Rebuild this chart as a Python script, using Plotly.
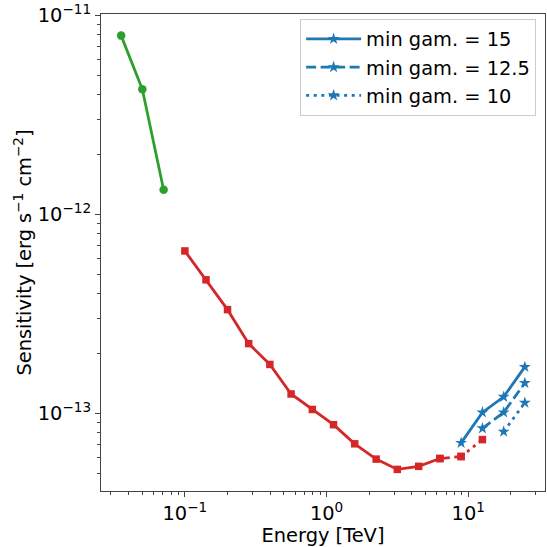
import plotly.graph_objects as go

# ---- data ----
green_energy = [0.0355, 0.0501, 0.0708]
green_sens = [7.93e-12, 4.26e-12, 1.33e-12]

red_energy = [0.1, 0.141, 0.2, 0.282, 0.398, 0.562, 0.794, 1.12, 1.58, 2.24,
              3.16, 4.47, 6.31, 8.91, 12.6]
red_sens = [6.55e-13, 4.69e-13, 3.32e-13, 2.24e-13, 1.76e-13, 1.25e-13, 1.045e-13,
            8.76e-14, 7.02e-14, 5.88e-14, 5.22e-14, 5.41e-14, 5.92e-14, 6.06e-14, 7.37e-14]
red_solid_end = 12   # index where solid part ends
red_dash_end = 13    # index where dashed part ends

blue_names = ["min gam. = 15", "min gam. = 12.5", "min gam. = 10"]
blue_energy = [[8.91, 12.6, 17.8, 25.1], [12.6, 17.8, 25.1], [17.8, 25.1]]
blue_sens = [[7.1e-14, 1.01e-13, 1.21e-13, 1.71e-13],
             [8.4e-14, 1.01e-13, 1.42e-13],
             [8.08e-14, 1.13e-13]]
blue_dash = ["solid", "10px,4.5px", "3px,4.6px"]

x_major = [0.1, 1, 10]
x_major_text = ["10<sup>−1</sup>", "10<sup>0</sup>", "10<sup>1</sup>"]
x_minor = [0.03, 0.04, 0.05, 0.06, 0.07, 0.08, 0.09,
           0.2, 0.3, 0.4, 0.5, 0.6, 0.7, 0.8, 0.9,
           2, 3, 4, 5, 6, 7, 8, 9, 20, 30]
y_major = [1e-13, 1e-12, 1e-11]
y_major_text = ["10<sup>−13</sup>", "10<sup>−12</sup>", "10<sup>−11</sup>"]
y_minor = [5e-14, 6e-14, 7e-14, 8e-14, 9e-14,
           2e-13, 3e-13, 4e-13, 5e-13, 6e-13, 7e-13, 8e-13, 9e-13,
           2e-12, 3e-12, 4e-12, 5e-12, 6e-12, 7e-12, 8e-12, 9e-12]

GREEN = "#2ca02c"
RED = "#d62728"
BLUE = "#1f77b4"
LW = 2.8
FS = 19.4

fig = go.Figure()

fig.add_trace(go.Scatter(x=green_energy, y=green_sens, mode="lines+markers",
                         line=dict(color=GREEN, width=LW),
                         marker=dict(symbol="circle", size=8.5, color=GREEN),
                         showlegend=False))

segments = [
    (0, red_solid_end + 1, "solid"),
    (red_solid_end, red_dash_end + 1, "10px,4.5px"),
    (red_dash_end, len(red_energy), "3px,4.6px"),
]
for a, b, d in segments:
    fig.add_trace(go.Scatter(x=red_energy[a:b], y=red_sens[a:b], mode="lines+markers",
                             line=dict(color=RED, width=LW, dash=d),
                             marker=dict(symbol="square", size=7.5, color=RED),
                             showlegend=False))

for name, ex, sv, d in zip(blue_names, blue_energy, blue_sens, blue_dash):
    fig.add_trace(go.Scatter(x=ex, y=sv, mode="lines+markers", name=name,
                             line=dict(color=BLUE, width=LW, dash=d),
                             marker=dict(symbol="star", size=9, color=BLUE)))

axis_common = dict(
    showline=True, linecolor="#444", linewidth=1.1, mirror=True,
    showgrid=False, zeroline=False,
    ticks="outside", ticklen=5, tickwidth=1.1, tickcolor="#444",
    tickmode="array", ticklabeloverflow="allow",
    tickfont=dict(size=FS),
)

fig.update_xaxes(type="log", range=[-1.592, 1.542],
                 tickvals=x_major, ticktext=x_major_text,
                 minor=dict(tickmode="array", tickvals=x_minor, ticks="outside",
                            ticklen=3, tickwidth=0.8, tickcolor="#444", showgrid=False),
                 title=dict(text="Energy [TeV]", standoff=1, font=dict(size=FS)),
                 **axis_common)
fig.update_yaxes(type="log", range=[-13.391, -10.992],
                 tickvals=y_major, ticktext=y_major_text,
                 minor=dict(tickmode="array", tickvals=y_minor, ticks="outside",
                            ticklen=3, tickwidth=0.8, tickcolor="#444", showgrid=False),
                 title=dict(text="Sensitivity [erg s<sup>−1</sup> cm<sup>−2</sup>]",
                            standoff=0, font=dict(size=FS)),
                 **axis_common)

fig.update_layout(
    width=547, height=547,
    margin=dict(l=101, r=1, t=11, b=56),
    paper_bgcolor="white", plot_bgcolor="white",
    font=dict(family="DejaVu Sans", size=FS, color="black"),
    legend=dict(x=0.98, y=0.99, xanchor="right", yanchor="top",
                bgcolor="rgba(255,255,255,0.8)", bordercolor="#cccccc", borderwidth=1,
                itemwidth=55, font=dict(size=FS)),
)

fig.write_html("out.html")
